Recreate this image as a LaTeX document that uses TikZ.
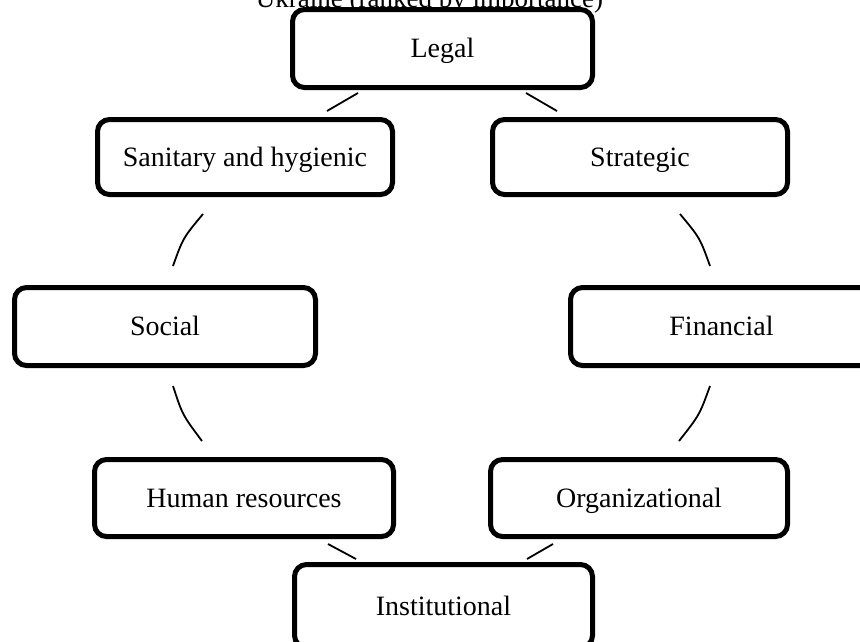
\documentclass[tikz,border=0pt]{standalone}
\usepackage{fontspec}
\setmainfont{Liberation Serif}
\begin{document}
\begin{tikzpicture}[x=1pt,y=-1pt,
  box/.style={draw=black, line width=5pt, rounded corners=12pt, fill=white,
    inner sep=0pt, text height=18.5pt, text depth=0pt, font=\fontsize{28}{34}\selectfont},
  link/.style={draw=black, line width=1.8pt}]
\useasboundingbox (0,0) rectangle (860,641);
\node[anchor=base, font=\fontsize{27}{32}\selectfont] (title) at (429.5,7) {Ukraine (ranked by importance)};
\node[box, minimum width=300pt, minimum height=78pt] (legal) at (442.5,48.5) {Legal};
\node[box, minimum width=295pt, minimum height=75pt] (sanitary) at (245,157) {Sanitary and hygienic};
\node[box, minimum width=295pt, minimum height=75pt] (strategic) at (640,157) {Strategic};
\node[box, minimum width=301pt, minimum height=78pt] (social) at (165,326.5) {Social};
\node[box, minimum width=302pt, minimum height=78pt] (financial) at (721.5,326.5) {Financial};
\node[box, minimum width=299pt, minimum height=77pt] (human) at (244,498) {Human resources};
\node[box, minimum width=297pt, minimum height=77pt] (org) at (639,498) {Organizational};
\node[box, minimum width=298pt, minimum height=83pt] (inst) at (443.5,606) {Institutional};
% connector end points
\coordinate (ls1) at (358,93);  \coordinate (ls2) at (327,111);
\coordinate (lt1) at (526,93);  \coordinate (lt2) at (557,111);
\coordinate (ss1) at (203,214); \coordinate (ss2) at (173,266); \coordinate (ssc) at (183,238);
\coordinate (sf1) at (680,214); \coordinate (sf2) at (710,266); \coordinate (sfc) at (700,238);
\coordinate (sh1) at (173,386); \coordinate (sh2) at (202,441); \coordinate (shc) at (182.5,415);
\coordinate (fo1) at (710,386); \coordinate (fo2) at (679,441); \coordinate (foc) at (699.5,415);
\coordinate (hi1) at (328,544); \coordinate (hi2) at (356,559);
\coordinate (oi1) at (553,544); \coordinate (oi2) at (527,559);
\draw[link] (ls1) -- (ls2);
\draw[link] (lt1) -- (lt2);
\draw[link] (ss1) .. controls (ssc) .. (ss2);
\draw[link] (sf1) .. controls (sfc) .. (sf2);
\draw[link] (sh1) .. controls (shc) .. (sh2);
\draw[link] (fo1) .. controls (foc) .. (fo2);
\draw[link] (hi1) -- (hi2);
\draw[link] (oi1) -- (oi2);
\end{tikzpicture}
\end{document}
